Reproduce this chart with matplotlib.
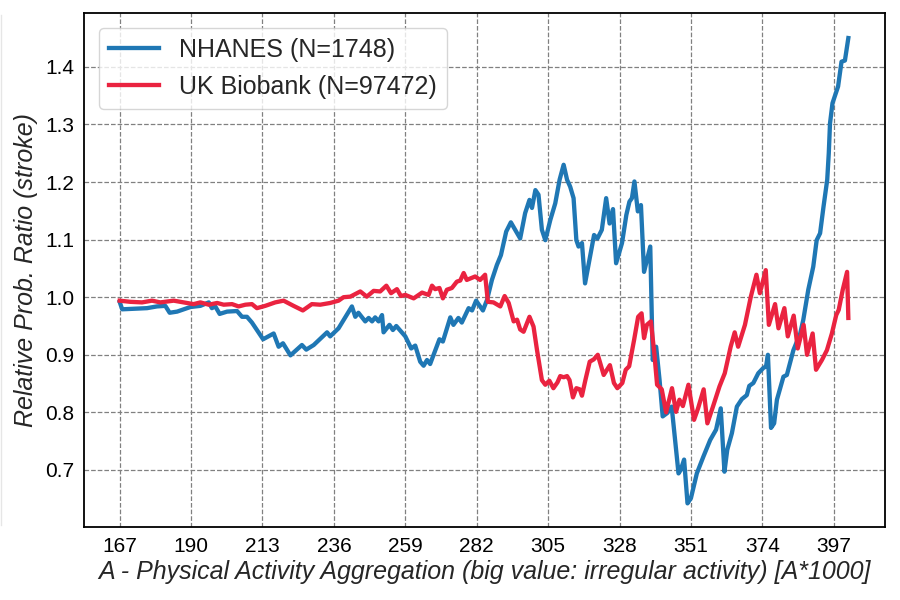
"""Relative probability ratio of stroke vs. physical activity aggregation,
NHANES vs UK Biobank. Values read off the reference chart."""

import matplotlib
matplotlib.use("Agg")
import matplotlib.pyplot as plt
from matplotlib.lines import Line2D

plt.rcParams["font.family"] = ["Liberation Sans", "DejaVu Sans"]

BLUE = "#1f77b4"
RED = "#ea2340"
TEXT = "#262626"

# --- data -----------------------------------------------------------------
nhanes_x = [
    167, 167.8, 175.8, 179, 181.7, 183.1, 185.5, 189.8, 193, 195.7,
    196.7, 197.8, 199.2, 201.6, 204.8, 206.4, 208, 209.6, 213.2, 216.6,
    218.2, 219.6, 222, 225.7, 227.1, 229.5, 233.8, 234.8, 237.5, 241.8,
    242.9, 243.9, 246.1, 247.2, 248.3, 249.3, 250.4, 251.5, 252, 253.9,
    255, 256.1, 259, 260.9, 262.2, 263.8, 264.9, 266, 267, 270,
    271.1, 273.5, 274.5, 276.1, 277.2, 279.4, 280.5, 281.8, 284, 285.3,
    286.9, 288.5, 289.8, 291.5, 293, 294.4, 296, 297.6, 299, 299.8,
    300.9, 301.9, 303, 304.1, 305.7, 307.3, 308.7, 310, 311.1, 312.1,
    313.2, 314.1, 314.8, 315.9, 316.9, 318.5, 319.8, 320.9, 322.3, 323.7,
    324.8, 325.9, 326.9, 328.8, 330.2, 331.2, 332, 332.8, 333.9, 334.9,
    335.9, 337, 337.9, 338.7, 339.8, 340.9, 341.9, 343.4, 344.8, 345.9,
    347, 347.7, 348.8, 349.9, 351, 352.9, 355, 357.2, 359.1, 360.6,
    361.8, 362.7, 364.2, 365.8, 367.4, 369, 369.8, 371.1, 372.7, 374.3,
    375.2, 375.8, 376.8, 377.8, 378.7, 380.8, 381.9, 384, 386.2, 387.2,
    388.8, 390.4, 391.5, 392.6, 393.7, 394.9, 395.4, 395.8, 396.6, 398.4,
    399.5, 400.6, 401.7,
]
nhanes_y = [
    0.992, 0.979, 0.981, 0.984, 0.985, 0.973, 0.975, 0.983, 0.985, 0.991,
    0.981, 0.984, 0.971, 0.975, 0.976, 0.966, 0.966, 0.956, 0.927, 0.937,
    0.914, 0.920, 0.899, 0.917, 0.909, 0.917, 0.939, 0.932, 0.946, 0.984,
    0.966, 0.973, 0.958, 0.964, 0.958, 0.965, 0.958, 0.969, 0.939, 0.952,
    0.943, 0.950, 0.932, 0.911, 0.916, 0.888, 0.881, 0.891, 0.884, 0.927,
    0.923, 0.965, 0.952, 0.964, 0.956, 0.981, 0.977, 0.994, 0.977, 0.995,
    1.030, 1.056, 1.073, 1.114, 1.130, 1.117, 1.102, 1.146, 1.169, 1.155,
    1.186, 1.178, 1.117, 1.099, 1.134, 1.163, 1.204, 1.230, 1.204, 1.192,
    1.172, 1.099, 1.088, 1.094, 1.024, 1.070, 1.108, 1.102, 1.117, 1.172,
    1.128, 1.153, 1.059, 1.094, 1.143, 1.166, 1.172, 1.201, 1.149, 1.160,
    1.044, 1.068, 1.088, 0.891, 0.914, 0.856, 0.793, 0.799, 0.810, 0.752,
    0.694, 0.700, 0.718, 0.642, 0.651, 0.694, 0.723, 0.752, 0.770, 0.807,
    0.697, 0.735, 0.764, 0.810, 0.823, 0.830, 0.846, 0.851, 0.868, 0.877,
    0.880, 0.900, 0.773, 0.781, 0.822, 0.862, 0.865, 0.908, 0.937, 0.961,
    1.013, 1.053, 1.099, 1.111, 1.157, 1.204, 1.250, 1.302, 1.337, 1.366,
    1.409, 1.411, 1.450,
]

ukb_x = [
    167, 170.4, 174.2, 177.4, 180.1, 184.4, 187.6, 190.8, 193, 195.7,
    198.4, 200.5, 203.2, 205.3, 207.5, 209.6, 211.2, 213.9, 215.5, 217.1,
    219.8, 223, 226, 228.9, 231.6, 234.8, 237.5, 239.1, 241.3, 244.5,
    246.6, 248.8, 250.9, 252.9, 254.4, 256.3, 257.6, 259, 261.7, 264.4,
    266.5, 267.6, 268.6, 270, 271.1, 272.4, 274, 275.6, 276.7, 277.8,
    278.8, 281.5, 283.1, 284.7, 285.6, 287.4, 289.6, 291, 292.3, 293.9,
    295, 296, 297.1, 299, 300.3, 301.4, 303, 304.1, 305.4, 306.7,
    308, 308.9, 310, 311.1, 311.9, 313, 314.1, 315.2, 315.9, 317,
    318.4, 319.7, 321, 322.9, 324.9, 326.2, 327.3, 328.9, 330, 331.1,
    332.7, 334, 335.1, 335.9, 336.8, 338.1, 339.2, 340.1, 341.6, 343,
    344.9, 346.2, 347.3, 348.4, 350.2, 352, 353.3, 355.1, 356.3, 358.1,
    360.2, 361.9, 363.8, 365.1, 366.2, 368.4, 370.3, 372.1, 373.2, 375.1,
    376.1, 378.1, 379.2, 381.1, 382.2, 384.1, 385.4, 387.3, 388.4, 390.2,
    391.3, 393.2, 394.8, 396.4, 397.8, 398.6, 399.9, 401.3, 401.7,
]
ukb_y = [
    0.994, 0.992, 0.991, 0.994, 0.991, 0.994, 0.991, 0.988, 0.991, 0.987,
    0.990, 0.987, 0.988, 0.984, 0.987, 0.988, 0.981, 0.985, 0.988, 0.991,
    0.994, 0.985, 0.977, 0.988, 0.987, 0.990, 0.994, 1.000, 1.001, 1.010,
    1.001, 1.011, 1.010, 1.020, 1.007, 1.014, 1.002, 1.004, 0.998, 1.008,
    1.004, 1.020, 1.014, 1.016, 0.998, 1.013, 1.016, 1.027, 1.029, 1.042,
    1.030, 1.036, 1.030, 1.039, 0.992, 0.991, 0.984, 1.002, 0.990, 0.958,
    0.961, 0.944, 0.940, 0.966, 0.949, 0.909, 0.856, 0.848, 0.855, 0.842,
    0.852, 0.863, 0.861, 0.863, 0.856, 0.826, 0.842, 0.840, 0.829, 0.856,
    0.888, 0.892, 0.900, 0.865, 0.882, 0.851, 0.842, 0.851, 0.874, 0.880,
    0.926, 0.966, 0.972, 0.929, 0.952, 0.958, 0.903, 0.848, 0.840, 0.800,
    0.842, 0.801, 0.822, 0.811, 0.848, 0.787, 0.807, 0.840, 0.781, 0.810,
    0.845, 0.868, 0.914, 0.939, 0.914, 0.952, 1.001, 1.039, 1.007, 1.047,
    0.952, 0.988, 0.946, 0.981, 0.932, 0.968, 0.911, 0.952, 0.900, 0.937,
    0.874, 0.891, 0.908, 0.937, 0.969, 0.978, 1.013, 1.044, 0.964,
]

x_ticks = [167, 190, 213, 236, 259, 282, 305, 328, 351, 374, 397]
y_ticks = [0.7, 0.8, 0.9, 1.0, 1.1, 1.2, 1.3, 1.4]


def main():
    fig = plt.figure(figsize=(9, 6), dpi=100)
    ax = fig.add_axes([0.0933, 0.1217, 0.89, 0.8566])

    ax.plot(nhanes_x, nhanes_y, color=BLUE, linewidth=3.1,
            label="NHANES (N=1748)")
    ax.plot(ukb_x, ukb_y, color=RED, linewidth=3.1,
            label="UK Biobank (N=97472)")

    ax.set_xlim(155.5, 413.5)
    ax.set_ylim(0.601, 1.4935)
    ax.set_xticks(x_ticks)
    ax.set_xticklabels([str(t) for t in x_ticks])
    ax.set_yticks(y_ticks)
    ax.set_yticklabels([f"{t:.1f}" for t in y_ticks])
    ax.tick_params(length=0, labelsize=15, labelcolor="black", pad=7)

    ax.grid(True, color="#808080", linestyle="--", linewidth=0.9)
    for s in ax.spines.values():
        s.set_color("black")
        s.set_linewidth(1.3)

    ax.set_xlabel("A - Physical Activity Aggregation (big value: irregular activity) [A*1000]",
                  fontsize=18, style="italic", color=TEXT, labelpad=3)
    ax.set_ylabel("Relative Prob. Ratio (stroke)", fontsize=18,
                  style="italic", color=TEXT, labelpad=5)

    leg = ax.legend(loc="upper left", fontsize=18, framealpha=0.8,
                    edgecolor="#cccccc", handlelength=2.0,
                    borderaxespad=0.6)
    for t in leg.get_texts():
        t.set_color(TEXT)

    # faint edge line at the far left of the figure
    fig.add_artist(Line2D([0.0015, 0.0015], [0.125, 0.975],
                          transform=fig.transFigure,
                          color="#e6e6e6", linewidth=1))

    fig.savefig("out.png", dpi=100)
    plt.close(fig)


if __name__ == "__main__":
    main()
